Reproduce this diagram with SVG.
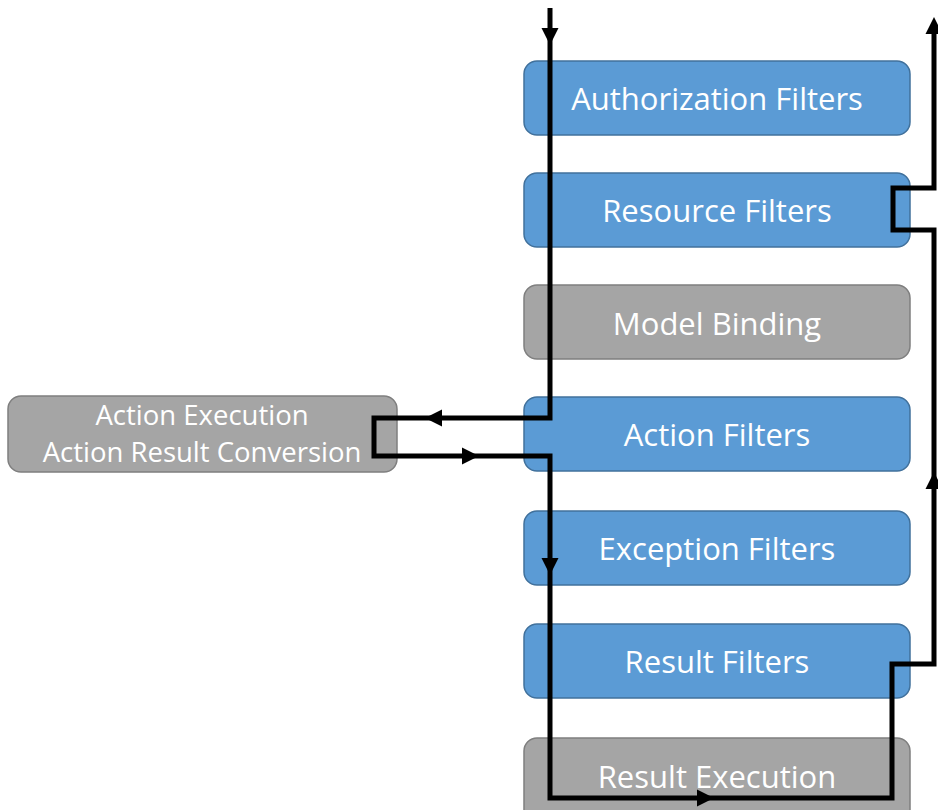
<svg xmlns="http://www.w3.org/2000/svg" width="938" height="810" viewBox="0 0 938 810">
<style>
.blue{fill:#5B9BD5;stroke:#41719C;stroke-width:1.5}
.gray{fill:#A5A5A5;stroke:#7F7F7F;stroke-width:1.5}
.lbl{font-family:"Open Sans","Noto Sans",sans-serif;font-size:31px;fill:#FFFFFF;text-anchor:middle}
.sm{font-size:27.5px}
.flow{fill:none;stroke:#000000;stroke-width:5;stroke-linejoin:miter;stroke-linecap:butt}
.head{fill:#000000}
</style>
<defs>
<path id="ah" d="M0,0 L-17,-8.5 L-17,8.5 Z"/>
</defs>
<rect width="938" height="810" fill="#FFFFFF"/>
<g id="authorization-filters">
<rect class="blue" x="524" y="61" width="386" height="74" rx="13"/>
<text class="lbl" x="717" y="110">Authorization Filters</text>
</g>
<g id="resource-filters">
<rect class="blue" x="524" y="173" width="386" height="74" rx="13"/>
<text class="lbl" x="717" y="222">Resource Filters</text>
</g>
<g id="model-binding">
<rect class="gray" x="524" y="285" width="386" height="74" rx="13"/>
<text class="lbl" x="717" y="335">Model Binding</text>
</g>
<g id="action-filters">
<rect class="blue" x="524" y="397" width="386" height="74" rx="13"/>
<text class="lbl" x="717" y="446">Action Filters</text>
</g>
<g id="exception-filters">
<rect class="blue" x="524" y="511" width="386" height="74" rx="13"/>
<text class="lbl" x="717" y="560">Exception Filters</text>
</g>
<g id="result-filters">
<rect class="blue" x="524" y="624" width="386" height="74" rx="13"/>
<text class="lbl" x="717" y="673">Result Filters</text>
</g>
<g id="result-execution">
<rect class="gray" x="524" y="738" width="386" height="90" rx="13"/>
<text class="lbl" x="717" y="788">Result Execution</text>
</g>
<g id="action-execution">
<rect class="gray" x="8" y="396" width="389" height="76" rx="13"/>
<text class="lbl sm" x="202" y="425">Action Execution</text>
<text class="lbl sm" x="202" y="462">Action Result Conversion</text>
</g>
<g id="connectors">
<path class="flow" d="M550,8 V418 H374 V456 H550 V798 H892 V664 H934 V230 H893 V188 H934 V24"/>
<use href="#ah" class="head" transform="translate(550,45) rotate(90)"/>
<use href="#ah" class="head" transform="translate(425,418) rotate(180)"/>
<use href="#ah" class="head" transform="translate(479,456)"/>
<use href="#ah" class="head" transform="translate(550,575) rotate(90)"/>
<use href="#ah" class="head" transform="translate(714,798)"/>
<use href="#ah" class="head" transform="translate(934,472) rotate(-90)"/>
<use href="#ah" class="head" transform="translate(934,17) rotate(-90)"/>
</g>
</svg>
